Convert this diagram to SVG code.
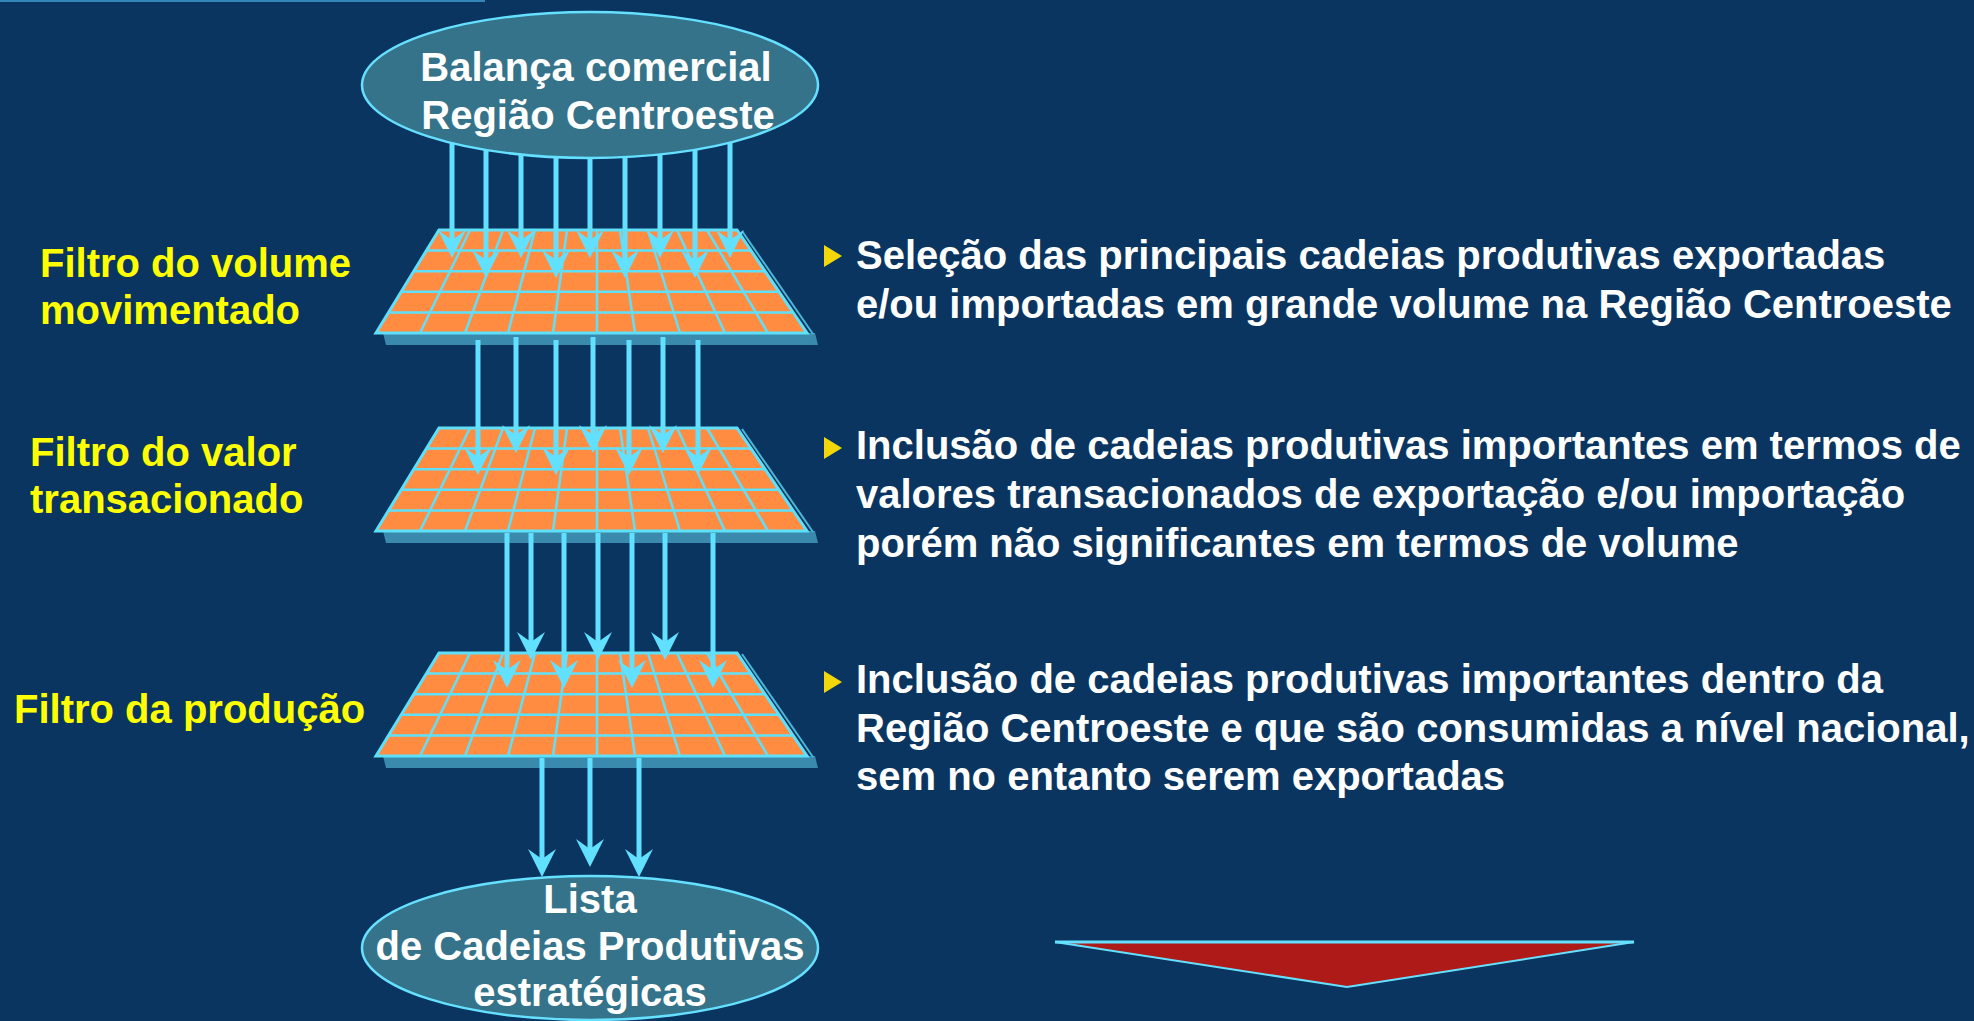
<svg xmlns="http://www.w3.org/2000/svg" xmlns:xlink="http://www.w3.org/1999/xlink" width="1974" height="1021" viewBox="0 0 1974 1021">
<style>
.lbl{font-family:"Liberation Sans",Arial,sans-serif;font-weight:bold;font-size:40px;fill:#FFFF00}
.txt{font-family:"Liberation Sans",Arial,sans-serif;font-weight:bold;font-size:40px;fill:#FFFFFF}
.etx{font-family:"Liberation Sans",Arial,sans-serif;font-weight:bold;font-size:40px;fill:#FFFFFF;text-anchor:middle}
.ell{fill:#34738A;stroke:#66E0FF;stroke-width:2.5}
.gl{stroke:#5FE0FA;stroke-width:2.5;fill:none}
.arr{stroke:#62E0FF;stroke-width:5;fill:none;marker-end:url(#ah)}
.bul{fill:#F2D80A}
</style>
<defs>
<marker id="ah" markerUnits="userSpaceOnUse" markerWidth="40" markerHeight="40" orient="auto" refX="0" refY="0" overflow="visible">
<path d="M18,0 L-10,-14 L0,0 L-10,14 Z" fill="#62E0FF"/>
</marker>
<g id="grid">
<polygon points="383,103 815,103 818,115 386,115" fill="#3A8AAE"/>
<line x1="742" y1="1" x2="813" y2="104" stroke="#4DB6D6" stroke-width="2"/>
<polygon points="439,0 737,0 807,103 376,103" fill="#FF8C40"/>
<line class="gl" x1="426.4" y1="20.6" x2="751" y2="20.6"/>
<line class="gl" x1="413.8" y1="41.2" x2="765" y2="41.2"/>
<line class="gl" x1="401.2" y1="61.8" x2="779" y2="61.8"/>
<line class="gl" x1="388.6" y1="82.4" x2="793" y2="82.4"/>
<line class="gl" x1="470" y1="0" x2="420" y2="103"/>
<line class="gl" x1="503" y1="0" x2="465" y2="103"/>
<line class="gl" x1="535" y1="0" x2="508" y2="103"/>
<line class="gl" x1="567" y1="0" x2="553" y2="103"/>
<line class="gl" x1="597" y1="0" x2="597" y2="103"/>
<line class="gl" x1="620" y1="0" x2="635" y2="103"/>
<line class="gl" x1="648" y1="0" x2="680" y2="103"/>
<line class="gl" x1="677" y1="0" x2="725" y2="103"/>
<line class="gl" x1="707" y1="0" x2="768" y2="103"/>
<polygon points="439,0 737,0 807,103 376,103" fill="none" stroke="#5FE0FA" stroke-width="3"/>
</g>
</defs>
<rect x="0" y="0" width="1974" height="1021" fill="#0A3560"/>
<rect x="0" y="0" width="485" height="2" fill="#3385B8"/>

<g id="filtro-volume">
<use xlink:href="#grid" transform="translate(0,230)"/>
<text class="lbl" x="40" y="277">Filtro do volume</text>
<text class="lbl" x="40" y="324">movimentado</text>
</g>
<g id="filtro-valor">
<use xlink:href="#grid" transform="translate(0,428)"/>
<text class="lbl" x="30" y="466">Filtro do valor</text>
<text class="lbl" x="30" y="513">transacionado</text>
</g>
<g id="filtro-producao">
<use xlink:href="#grid" transform="translate(0,653)"/>
<text class="lbl" x="14" y="723">Filtro da produção</text>
</g>

<g id="connectors">
<line class="arr" x1="452" y1="130" x2="452" y2="240"/>
<line class="arr" x1="486" y1="130" x2="486" y2="260"/>
<line class="arr" x1="521" y1="130" x2="521" y2="240"/>
<line class="arr" x1="556" y1="130" x2="556" y2="260"/>
<line class="arr" x1="590" y1="130" x2="590" y2="240"/>
<line class="arr" x1="625" y1="130" x2="625" y2="260"/>
<line class="arr" x1="660" y1="130" x2="660" y2="240"/>
<line class="arr" x1="695" y1="130" x2="695" y2="260"/>
<line class="arr" x1="730" y1="130" x2="730" y2="240"/>

<line class="arr" x1="478" y1="340" x2="478" y2="457"/>
<line class="arr" x1="516" y1="337" x2="516" y2="435"/>
<line class="arr" x1="556" y1="340" x2="556" y2="457"/>
<line class="arr" x1="593" y1="337" x2="593" y2="435"/>
<line class="arr" x1="629" y1="340" x2="629" y2="457"/>
<line class="arr" x1="663" y1="337" x2="663" y2="435"/>
<line class="arr" x1="698" y1="340" x2="698" y2="457"/>

<line class="arr" x1="507" y1="533" x2="507" y2="670"/>
<line class="arr" x1="531" y1="533" x2="531" y2="642"/>
<line class="arr" x1="564" y1="533" x2="564" y2="670"/>
<line class="arr" x1="598" y1="533" x2="598" y2="642"/>
<line class="arr" x1="632" y1="533" x2="632" y2="670"/>
<line class="arr" x1="665" y1="533" x2="665" y2="642"/>
<line class="arr" x1="713" y1="533" x2="713" y2="670"/>

<line class="arr" x1="542" y1="758" x2="542" y2="859"/>
<line class="arr" x1="590" y1="758" x2="590" y2="849"/>
<line class="arr" x1="639" y1="758" x2="639" y2="859"/>
</g>

<g id="balanca">
<ellipse class="ell" cx="590" cy="85" rx="228" ry="73"/>
<text class="etx" x="596" y="81">Balança comercial</text>
<text class="etx" x="598" y="129">Região Centroeste</text>
</g>
<g id="lista">
<ellipse class="ell" cx="590" cy="948" rx="228" ry="72"/>
<text class="etx" x="590" y="913">Lista</text>
<text class="etx" x="590" y="960">de Cadeias Produtivas</text>
<text class="etx" x="590" y="1006">estratégicas</text>
</g>

<g id="desc-volume">
<polygon class="bul" points="824,245 842,256 824,267"/>
<text class="txt" x="856" y="269">Seleção das principais cadeias produtivas exportadas</text>
<text class="txt" x="856" y="318">e/ou importadas em grande volume na Região Centroeste</text>
</g>
<g id="desc-valor">
<polygon class="bul" points="824,437 842,448 824,459"/>
<text class="txt" x="856" y="459">Inclusão de cadeias produtivas importantes em termos de</text>
<text class="txt" x="856" y="508">valores transacionados de exportação e/ou importação</text>
<text class="txt" x="856" y="557">porém não significantes em termos de volume</text>
</g>
<g id="desc-producao">
<polygon class="bul" points="824,671 842,682 824,693"/>
<text class="txt" x="856" y="693">Inclusão de cadeias produtivas importantes dentro da</text>
<text class="txt" x="856" y="742">Região Centroeste e que são consumidas a nível nacional,</text>
<text class="txt" x="856" y="790">sem no entanto serem exportadas</text>
</g>

<g id="seta-vermelha">
<polygon points="1055,942 1634,942 1347,987" fill="#AD1A18" stroke="#66E0FF" stroke-width="2"/>
<line x1="1055" y1="942" x2="1634" y2="942" stroke="#66E0FF" stroke-width="3"/>
</g>
</svg>
